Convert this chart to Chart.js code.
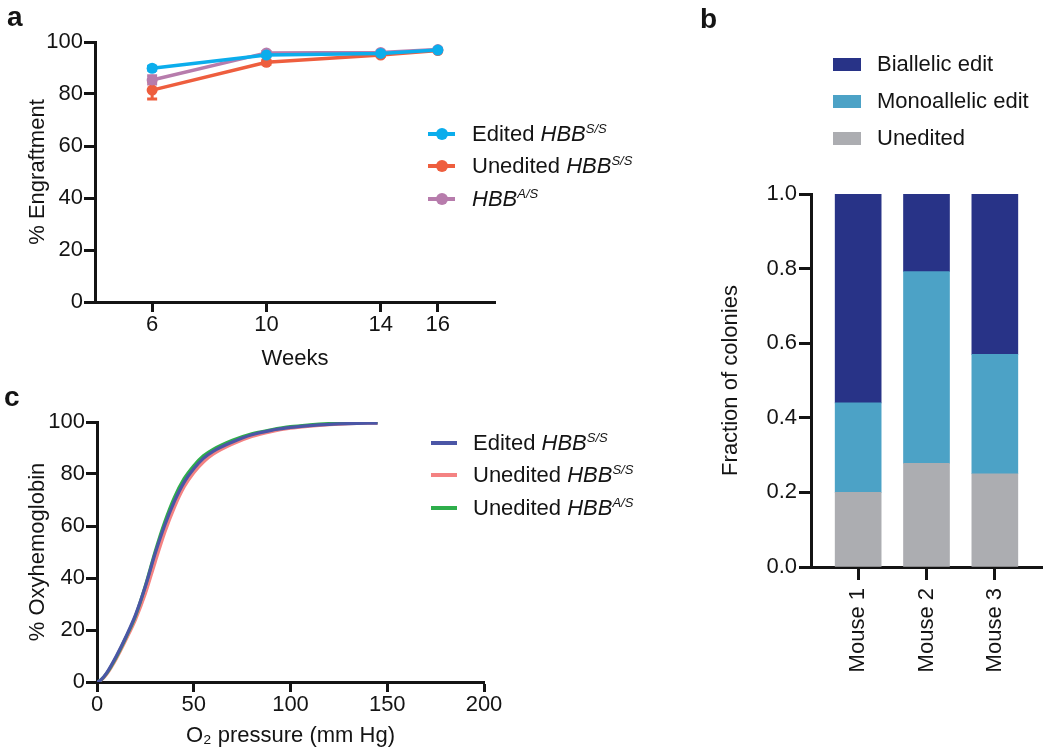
<!DOCTYPE html>
<html>
<head>
<meta charset="utf-8">
<title>Engraftment, colony editing and oxygen binding</title>
<script src="https://cdn.jsdelivr.net/npm/chart.js@4.4.1/dist/chart.umd.min.js"></script>
<style>
  body { margin: 0; background: #fff; }
  #page { position: relative; width: 1050px; height: 756px; overflow: hidden;
          font-family: "Liberation Sans", Arial, sans-serif; color: #141414; }
  canvas { position: absolute; }
  .tag { position: absolute; font-weight: bold; font-size: 28px; line-height: 1; }
  .leg { position: absolute; font-size: 22px; line-height: 26px; height: 26px;
         white-space: nowrap; display: flex; align-items: center; }
  .leg sup { font-size: 13px; line-height: 0; position: relative; top: -8px; vertical-align: baseline; }
  .sw { position: relative; display: inline-block; flex: none; }
  .sw .ln { position: absolute; left: 0; right: 0; top: 50%; height: 4px; margin-top: -2px; }
  .sw .dot { position: absolute; left: 50%; top: 50%; width: 12px; height: 12px; margin: -6px 0 0 -6px; border-radius: 50%; }
</style>
</head>
<body>
<div id="page">
  <canvas id="chartA" width="520" height="380" style="left:0;top:0"></canvas>
  <canvas id="chartB" width="350" height="756" style="left:700px;top:0"></canvas>
  <canvas id="chartC" width="520" height="376" style="left:0;top:380px"></canvas>

  <div class="tag" style="left:7px;top:3px">a</div>
  <div class="tag" style="left:700px;top:5px">b</div>
  <div class="tag" style="left:4px;top:383px">c</div>

  <!-- legend a -->
  <div class="leg" style="left:428px;top:121px">
    <span class="sw" style="width:27px;height:26px;margin-right:17px"><span class="ln" style="background:#0BADEC"></span><span class="dot" style="background:#0BADEC"></span></span>
    <span>Edited <i>HBB</i><sup><i>S/S</i></sup></span>
  </div>
  <div class="leg" style="left:428px;top:153px">
    <span class="sw" style="width:27px;height:26px;margin-right:17px"><span class="ln" style="background:#EE5E3E"></span><span class="dot" style="background:#EE5E3E"></span></span>
    <span>Unedited <i>HBB</i><sup><i>S/S</i></sup></span>
  </div>
  <div class="leg" style="left:428px;top:186px">
    <span class="sw" style="width:27px;height:26px;margin-right:17px"><span class="ln" style="background:#B77CAC"></span><span class="dot" style="background:#B77CAC"></span></span>
    <span><i>HBB</i><sup><i>A/S</i></sup></span>
  </div>

  <!-- legend b -->
  <div class="leg" style="left:833px;top:51px">
    <span class="sw" style="width:28px;height:13px;margin-right:16px;background:#283387"></span><span>Biallelic edit</span>
  </div>
  <div class="leg" style="left:833px;top:88px">
    <span class="sw" style="width:28px;height:13px;margin-right:16px;background:#4CA2C6"></span><span>Monoallelic edit</span>
  </div>
  <div class="leg" style="left:833px;top:125px">
    <span class="sw" style="width:28px;height:13px;margin-right:16px;background:#ACADB1"></span><span>Unedited</span>
  </div>

  <!-- legend c -->
  <div class="leg" style="left:431px;top:430px">
    <span class="sw" style="width:26px;height:26px;margin-right:16px"><span class="ln" style="background:#4B56A6"></span></span>
    <span>Edited <i>HBB</i><sup><i>S/S</i></sup></span>
  </div>
  <div class="leg" style="left:431px;top:462px">
    <span class="sw" style="width:26px;height:26px;margin-right:16px"><span class="ln" style="background:#F48282"></span></span>
    <span>Unedited <i>HBB</i><sup><i>S/S</i></sup></span>
  </div>
  <div class="leg" style="left:431px;top:495px">
    <span class="sw" style="width:26px;height:26px;margin-right:16px"><span class="ln" style="background:#2EAE4B"></span></span>
    <span>Unedited <i>HBB</i><sup><i>A/S</i></sup></span>
  </div>
</div>

<script>
// panel a - engraftment over time
const weeks = [6, 10, 14, 16];
const editedSS = [89.9, 95.0, 95.6, 96.9];
const uneditedSS = [81.5, 92.2, 95.0, 96.7];
const hbbAS = [85.4, 95.8, 96.0, 97.1];
const editedErr = [0.8, 0.5, 0.4, 0.4];
const uneditedErr = [3.4, 0.8, 0.5, 0.4];
const hbbASErr = [1.6, 0.5, 0.4, 0.4];

// panel b - colony genotypes per mouse
const mice = ["Mouse 1", "Mouse 2", "Mouse 3"];
const uneditedFrac = [0.20, 0.278, 0.25];
const monoFrac = [0.24, 0.514, 0.32];
const biFrac = [0.56, 0.208, 0.43];

// panel c - oxygen dissociation curves
const pressure = [0, 2, 5, 10, 15, 20, 25, 30, 35, 40, 45, 50, 55, 60, 70, 80, 90, 100, 110, 120, 130, 145];
const oxyEdited = [0, 0.8, 3.5, 10, 17.5, 26, 36.8, 49.3, 60.3, 69.5, 76.8, 82, 86, 88.7, 92.3, 95.1, 96.8, 97.9, 98.6, 99.1, 99.4, 99.6];
const oxyUnedited = [0, 0.6, 3, 9, 16.3, 24.2, 34, 46, 57.5, 67.2, 75, 80.5, 84.6, 87.6, 91.5, 94.4, 96.3, 97.6, 98.4, 99, 99.4, 99.6];
const oxyUneditedAS = [0, 0.8, 3.3, 9.6, 17.2, 25.6, 37, 50, 61.5, 71, 78.2, 83.2, 87, 89.5, 93, 95.5, 97, 98.2, 98.9, 99.4, 99.7, 99.9];

const ink = "#141414";
Chart.defaults.font.family = '"Liberation Sans", Arial, sans-serif';
Chart.defaults.color = ink;
Chart.defaults.animation = false;
Chart.defaults.events = [];
Chart.defaults.plugins.legend.display = false;
Chart.defaults.plugins.tooltip.enabled = false;

const zeroPad = (s) => { s.paddingTop = 0; s.paddingBottom = 0; s.paddingLeft = 0; s.paddingRight = 0; };
const fixWidth = (w) => (s) => { s.width = w; zeroPad(s); };
const fixHeight = (h) => (s) => { s.height = h; zeroPad(s); };

const border = { display: true, color: ink, width: 3 };
const grid = (len) => ({ display: true, offset: false, drawOnChartArea: false, drawTicks: true, tickLength: len, tickWidth: 3, tickColor: ink });

// error bars drawn under the lines
const errorBars = {
  id: "errorBars",
  beforeDatasetsDraw(chart) {
    const { ctx, scales: { x, y } } = chart;
    chart.data.datasets.forEach((ds) => {
      if (!ds.errors) return;
      ctx.save();
      ctx.strokeStyle = ds.borderColor;
      ctx.lineWidth = 3;
      ds.data.forEach((p, i) => {
        const e = ds.errors[i];
        const px = x.getPixelForValue(p.x);
        const top = y.getPixelForValue(p.y + e);
        const bot = y.getPixelForValue(p.y - e);
        ctx.beginPath();
        ctx.moveTo(px, top); ctx.lineTo(px, bot);
        ctx.moveTo(px - 5, top); ctx.lineTo(px + 5, top);
        ctx.moveTo(px - 5, bot); ctx.lineTo(px + 5, bot);
        ctx.stroke();
      });
      ctx.restore();
    });
  }
};

const pts = (xs, ys) => xs.map((v, i) => ({ x: v, y: ys[i] }));
const lineSet = (label, ys, errs, color) => ({
  label, data: pts(weeks, ys), errors: errs,
  borderColor: color, backgroundColor: color, borderWidth: 3.5,
  pointRadius: 5.5, pointBorderWidth: 0, pointBackgroundColor: color, tension: 0
});

new Chart(document.getElementById("chartA"), {
  type: "line",
  data: {
    datasets: [
      lineSet("Edited HBB S/S", editedSS, editedErr, "#0BADEC"),
      lineSet("HBB A/S", hbbAS, hbbASErr, "#B77CAC"),
      lineSet("Unedited HBB S/S", uneditedSS, uneditedErr, "#EE5E3E")
    ]
  },
  options: {
    responsive: false,
    layout: { padding: { left: 0, right: 25, top: 42, bottom: 0 } },
    scales: {
      x: {
        type: "linear", min: 4, max: 18,
        afterBuildTicks: (s) => { s.ticks = weeks.map((v) => ({ value: v })); },
        afterFit: fixHeight(78),
        border, grid: grid(10),
        ticks: { font: { size: 22 }, padding: 0, color: ink },
        title: { display: true, text: "Weeks", font: { size: 22 }, color: ink, padding: { bottom: 8 } }
      },
      y: {
        min: 0, max: 100,
        afterFit: fixWidth(95),
        border, grid: grid(11),
        ticks: { stepSize: 20, font: { size: 22 }, padding: 1, color: ink },
        title: { display: true, text: "% Engraftment", font: { size: 22 }, color: ink, padding: { top: 25 } }
      }
    }
  },
  plugins: [errorBars]
});

const barSet = (label, vals, color) => ({
  label, data: pts([1, 2, 3], vals), backgroundColor: color, borderWidth: 0, barThickness: 46
});

new Chart(document.getElementById("chartB"), {
  type: "bar",
  data: {
    datasets: [
      barSet("Unedited", uneditedFrac, "#ACADB1"),
      barSet("Monoallelic edit", monoFrac, "#4CA2C6"),
      barSet("Biallelic edit", biFrac, "#283387")
    ]
  },
  options: {
    responsive: false,
    layout: { padding: { left: 0, right: 8, top: 194, bottom: 0 } },
    scales: {
      x: {
        type: "linear", min: 0.31, max: 3.69, stacked: true, offset: false,
        afterBuildTicks: (s) => { s.ticks = mice.map((_, i) => ({ value: i + 1 })); },
        afterFit: fixHeight(189),
        border, grid: grid(13),
        ticks: { font: { size: 22 }, color: ink, padding: 8, minRotation: 90, maxRotation: 90, autoSkip: false,
                 callback: (v) => mice[Math.round(v) - 1] }
      },
      y: {
        min: 0, max: 1, stacked: true,
        afterFit: fixWidth(111),
        border, grid: grid(12),
        ticks: { stepSize: 0.2, font: { size: 22 }, color: ink, padding: 2, callback: (v) => Number(v).toFixed(1) },
        title: { display: true, text: "Fraction of colonies", font: { size: 22 }, color: ink, padding: { top: 18 } }
      }
    }
  }
});

const curveSet = (label, ys, color, order) => ({
  label, data: pts(pressure, ys), borderColor: color, backgroundColor: color,
  borderWidth: 3.2, pointRadius: 0, cubicInterpolationMode: "monotone", order
});

new Chart(document.getElementById("chartC"), {
  type: "line",
  data: {
    datasets: [
      curveSet("Edited HBB S/S", oxyEdited, "#4B56A6", 1),
      curveSet("Unedited HBB S/S", oxyUnedited, "#F48282", 3),
      curveSet("Unedited HBB A/S", oxyUneditedAS, "#2EAE4B", 2)
    ]
  },
  options: {
    responsive: false,
    layout: { padding: { left: 0, right: 36, top: 42, bottom: 0 } },
    scales: {
      x: {
        type: "linear", min: 0, max: 200,
        afterFit: fixHeight(74),
        border, grid: grid(10),
        ticks: { stepSize: 50, font: { size: 22 }, padding: 0, color: ink },
        title: { display: true, text: "O₂ pressure (mm Hg)", font: { size: 22 }, color: ink, padding: { bottom: 7 } }
      },
      y: {
        min: 0, max: 100,
        afterFit: fixWidth(97),
        border, grid: grid(11),
        ticks: { stepSize: 20, font: { size: 22 }, padding: 1, color: ink },
        title: { display: true, text: "% Oxyhemoglobin", font: { size: 22 }, color: ink, padding: { top: 25 } }
      }
    }
  }
});
</script>
</body>
</html>
